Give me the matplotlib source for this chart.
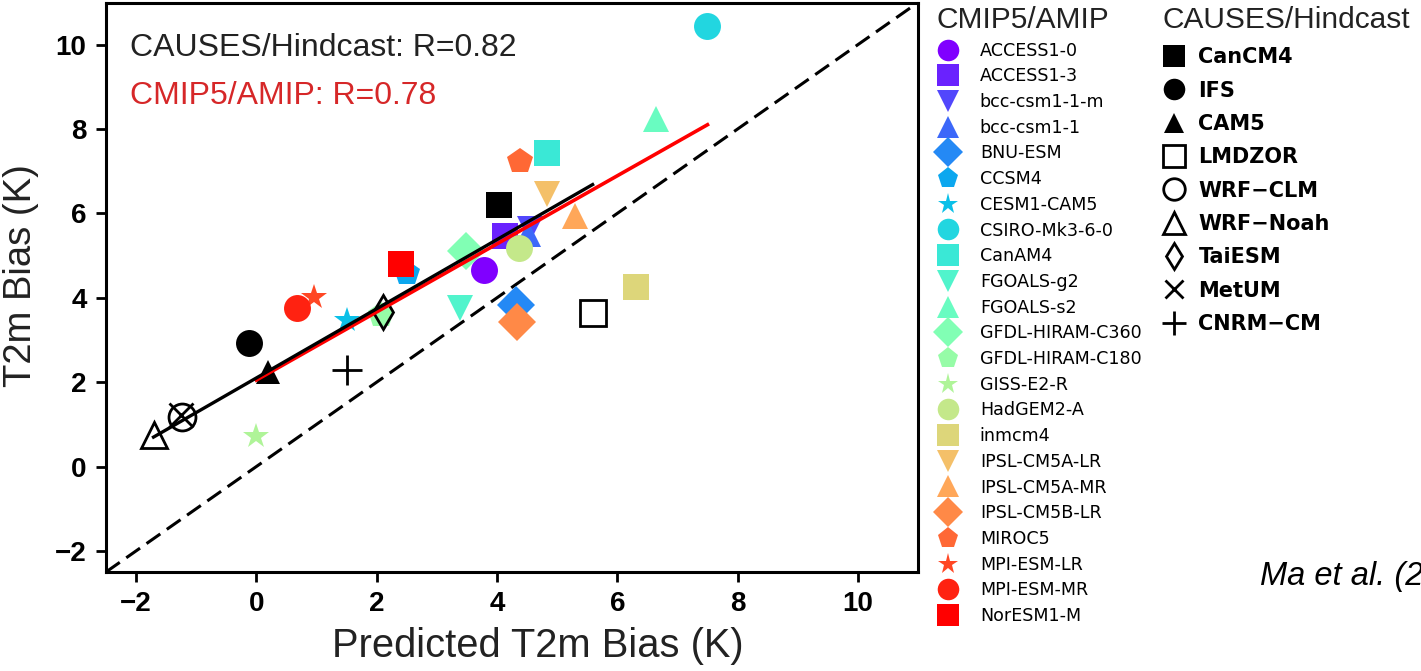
import numpy as np
import matplotlib
matplotlib.use("Agg")
import matplotlib.pyplot as plt

# ---------------- data ----------------
cmip_models = ["ACCESS1-0", "ACCESS1-3", "bcc-csm1-1-m", "bcc-csm1-1", "BNU-ESM",
               "CCSM4", "CESM1-CAM5", "CSIRO-Mk3-6-0", "CanAM4", "FGOALS-g2",
               "FGOALS-s2", "GFDL-HIRAM-C360", "GFDL-HIRAM-C180", "GISS-E2-R",
               "HadGEM2-A", "inmcm4", "IPSL-CM5A-LR", "IPSL-CM5A-MR", "IPSL-CM5B-LR",
               "MIROC5", "MPI-ESM-LR", "MPI-ESM-MR", "NorESM1-M"]
cmip_pred = [3.79, 4.14, 4.55, 4.52, 4.31, 2.51, 1.51, 7.50, 4.84, 3.39,
             6.64, 3.48, 2.08, 0.00, 4.36, 6.31, 4.84, 5.29, 4.34,
             4.38, 0.95, 0.68, 2.40]
cmip_bias = [4.67, 5.46, 5.62, 5.52, 3.82, 4.58, 3.47, 10.45, 7.44, 3.75,
             8.25, 5.12, 3.60, 0.72, 5.17, 4.25, 6.47, 5.95, 3.42,
             7.25, 4.01, 3.75, 4.79]

causes_models = ["CanCM4", "IFS", "CAM5", "LMDZOR", "WRF\u2212CLM", "WRF\u2212Noah",
                 "TaiESM", "MetUM", "CNRM\u2212CM"]
causes_pred = [4.04, -0.13, 0.20, 5.59, -1.23, -1.71, 2.10, -1.26, 1.50]
causes_bias = [6.21, 2.92, 2.24, 3.63, 1.17, 0.75, 3.66, 1.22, 2.28]

# fitted regression lines (slope, intercept)
causes_fit = (0.82, 2.10)
cmip_fit = (0.807, 2.05)

causes_r = 0.82
cmip_r = 0.78

x_ticks = [-2, 0, 2, 4, 6, 8, 10]
y_ticks = [-2, 0, 2, 4, 6, 8, 10]

# ---------------- styles ----------------
cmip_marker_cycle = ["o", "s", "v", "^", "D", "p", "*"]
cmip_colors = plt.cm.rainbow(np.linspace(0, 1, len(cmip_models)))
causes_markers = ["s", "o", "^", "s", "o", "^", "d", "x", "+"]
causes_filled = [True, True, True, False, False, False, False, False, False]
causes_msizes = [19.4, 19.4, 17.5, 19.4, 19.4, 19.4, 17.0, 17.0, 22.0]

fig = plt.figure(figsize=(14.21, 6.71), dpi=100)
ax = fig.add_axes([106 / 1421, 1 - 572 / 671, 812 / 1421, 569.5 / 671])

ax.set_xlim(-2.5, 11)
ax.set_ylim(-2.5, 11)

# 1:1 line
ax.plot([-2.5, 11], [-2.5, 11], color="black", lw=2.2, dashes=(5.5, 2.6), zorder=1)

cmip_handles = []
for i, name in enumerate(cmip_models):
    h, = ax.plot(cmip_pred[i], cmip_bias[i], ls="none",
                 marker=cmip_marker_cycle[i % len(cmip_marker_cycle)],
                 color=cmip_colors[i], markersize=19.4, mew=0, zorder=3)
    cmip_handles.append(h)

causes_handles = []
for i, name in enumerate(causes_models):
    mk = causes_markers[i]
    if causes_filled[i]:
        h, = ax.plot(causes_pred[i], causes_bias[i], ls="none", marker=mk,
                     color="black", markersize=causes_msizes[i], mew=0, zorder=5)
    else:
        h, = ax.plot(causes_pred[i], causes_bias[i], ls="none", marker=mk,
                     markerfacecolor="none", markeredgecolor="black",
                     markersize=causes_msizes[i], mew=2.0, zorder=5)
    causes_handles.append(h)

# regression lines
xc = np.array([min(cmip_pred), max(cmip_pred)])
ax.plot(xc, cmip_fit[1] + cmip_fit[0] * xc, color="red", lw=2.6, zorder=6)
xh = np.array([min(causes_pred), max(causes_pred)])
ax.plot(xh, causes_fit[1] + causes_fit[0] * xh, color="black", lw=2.4, zorder=7)

# annotations
ax.text(0.03, 0.92, f"CAUSES/Hindcast: R={causes_r:.2f}", transform=ax.transAxes,
        fontsize=23, family="Liberation Sans", color="#222222", va="center", ha="left")
ax.text(0.03, 0.836, f"CMIP5/AMIP: R={cmip_r:.2f}", transform=ax.transAxes,
        fontsize=23, family="Liberation Sans", color="#d62728", va="center", ha="left")

# axes styling
for sp in ax.spines.values():
    sp.set_linewidth(2.2)
ax.set_xticks(x_ticks)
ax.set_yticks(y_ticks)
ax.tick_params(direction="out", length=7, width=2, pad=7)
for lab in ax.get_xticklabels() + ax.get_yticklabels():
    lab.set_fontfamily("Liberation Sans")
    lab.set_fontweight("bold")
    lab.set_fontsize(20)
ax.set_xlabel("Predicted T2m Bias (K)", fontsize=28.7, family="Liberation Sans",
              color="#222222", labelpad=7)
ax.set_ylabel("T2m Bias (K)", fontsize=27.5, family="Liberation Sans",
              color="#222222", labelpad=11.5)
ax.xaxis.label.set_x(0.532)
ax.yaxis.label.set_y(0.52)

# legends
leg1 = fig.legend(cmip_handles, cmip_models, loc="upper left",
                  bbox_to_anchor=(936 / 1421, 1 - 6 / 671), frameon=False,
                  title="CMIP5/AMIP",
                  title_fontproperties={"family": "Liberation Sans", "size": 21.5},
                  prop={"family": "DejaVu Sans", "size": 12.6},
                  markerscale=0.8, handlelength=1.4, handletextpad=1.1,
                  labelspacing=0.44, borderpad=0, borderaxespad=0,
                  alignment="left", numpoints=1)
leg1.get_title().set_color("#222222")

leg2 = fig.legend(causes_handles, causes_models, loc="upper left",
                  bbox_to_anchor=(1163 / 1421, 1 - 6 / 671), frameon=False,
                  title="CAUSES/Hindcast",
                  title_fontproperties={"family": "Liberation Sans", "size": 21.5},
                  prop={"family": "DejaVu Sans", "size": 15, "weight": "bold"},
                  markerscale=0.8, handlelength=1.1, handletextpad=0.6,
                  labelspacing=0.64, borderpad=0, borderaxespad=0,
                  alignment="left", numpoints=1)
leg2.get_title().set_color("#222222")

# source note (cut off at the right edge, as in the reference)
fig.text(1260 / 1421, 1 - 585 / 671, "Ma et al. (2018)", fontsize=23.5,
         family="Liberation Sans", style="italic", color="black",
         ha="left", va="baseline")

fig.savefig("out.png", dpi=100)
